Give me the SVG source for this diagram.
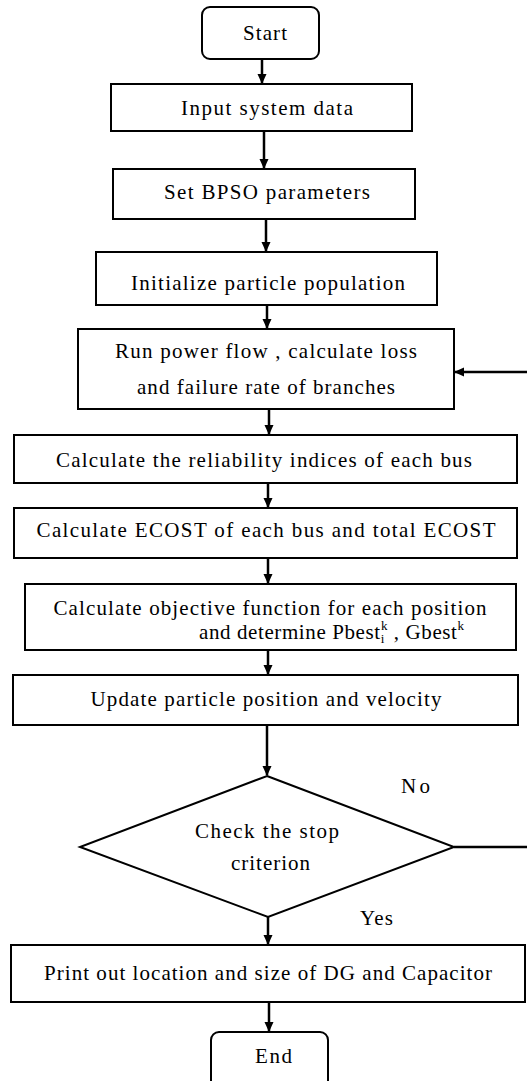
<svg xmlns="http://www.w3.org/2000/svg" width="527" height="1081" viewBox="0 0 527 1081">
<style>
.b{fill:#fff;stroke:#000;stroke-width:2}
text{font-family:Liberation Serif,Times New Roman,Times,serif;font-size:21px;fill:#000;text-anchor:middle}
.l{text-anchor:start}
.s{font-size:13px}
.c{fill:none;stroke:#000;stroke-width:2.5}
</style>
<defs>
<marker id="ah" markerWidth="10" markerHeight="10" refX="9" refY="5" orient="auto" markerUnits="userSpaceOnUse">
<path d="M0,0.5 L10,5 L0,9.5 Z" fill="#000"/>
</marker>
</defs>
<g id="connectors">
<path class="c" d="M262,59 V83" marker-end="url(#ah)"/>
<path class="c" d="M264,131 V168" marker-end="url(#ah)"/>
<path class="c" d="M266,219 V251" marker-end="url(#ah)"/>
<path class="c" d="M267,305 V328" marker-end="url(#ah)"/>
<path class="c" d="M269,409 V434" marker-end="url(#ah)"/>
<path class="c" d="M268,483 V507" marker-end="url(#ah)"/>
<path class="c" d="M268,558 V583" marker-end="url(#ah)"/>
<path class="c" d="M268,650 V674" marker-end="url(#ah)"/>
<path class="c" d="M267,725 V775" marker-end="url(#ah)"/>
<path class="c" d="M268,917 V944" marker-end="url(#ah)"/>
<path class="c" d="M269,1002 V1031" marker-end="url(#ah)"/>
<path class="c" d="M454,847 H540 V372 H455" marker-end="url(#ah)"/>
</g>
<g id="start"><rect class="b" x="202" y="7" width="117" height="52" rx="8"/><text font-family="Liberation Serif" x="265" y="40" textLength="44" lengthAdjust="spacing">Start</text></g>
<g id="input"><rect class="b" x="111" y="84" width="301" height="47"/><text font-family="Liberation Serif" x="267" y="115" textLength="172" lengthAdjust="spacing">Input system data</text></g>
<g id="bpso"><rect class="b" x="113" y="169" width="302" height="50"/><text font-family="Liberation Serif" x="267" y="199" textLength="206" lengthAdjust="spacing">Set BPSO parameters</text></g>
<g id="init"><rect class="b" x="96" y="252" width="341" height="53"/><text font-family="Liberation Serif" x="268" y="290" textLength="274" lengthAdjust="spacing">Initialize particle population</text></g>
<g id="powerflow"><rect class="b" x="78" y="329" width="376" height="80"/><text font-family="Liberation Serif" x="266" y="358" textLength="302" lengthAdjust="spacing">Run power flow , calculate loss</text><text font-family="Liberation Serif" x="266" y="394" textLength="258" lengthAdjust="spacing">and failure rate of branches</text></g>
<g id="reliability"><rect class="b" x="14" y="435" width="503" height="48"/><text font-family="Liberation Serif" x="264" y="467" textLength="416" lengthAdjust="spacing">Calculate the reliability indices of each bus</text></g>
<g id="ecost"><rect class="b" x="14" y="508" width="503" height="50"/><text font-family="Liberation Serif" x="266" y="537" textLength="459" lengthAdjust="spacing">Calculate ECOST of each bus and total ECOST</text></g>
<g id="objective"><rect class="b" x="25" y="584" width="491" height="66"/><text font-family="Liberation Serif" x="270" y="615" textLength="433" lengthAdjust="spacing">Calculate objective function for each position</text><text font-family="Liberation Serif" class="l" x="199" y="639" letter-spacing="0.6">and determine Pbest<tspan class="s" dy="4">i</tspan><tspan class="s" dx="-4" dy="-13">k</tspan><tspan dy="9"> , Gbest</tspan><tspan class="s" dy="-9">k</tspan></text></g>
<g id="update"><rect class="b" x="13" y="675" width="505" height="50"/><text font-family="Liberation Serif" x="266" y="706" textLength="351" lengthAdjust="spacing">Update particle position and velocity</text></g>
<g id="decision"><polygon class="b" points="267,776 454,847 268,917 80,847"/><text font-family="Liberation Serif" x="267" y="838" textLength="144" lengthAdjust="spacing">Check the stop</text><text font-family="Liberation Serif" x="270.5" y="870" textLength="79" lengthAdjust="spacing">criterion</text></g>
<g id="print"><rect class="b" x="11" y="945" width="514" height="57"/><text font-family="Liberation Serif" x="268" y="980" textLength="448" lengthAdjust="spacing">Print out location and size of DG and Capacitor</text></g>
<g id="end"><rect class="b" x="211" y="1032" width="117" height="58" rx="8"/><text font-family="Liberation Serif" x="273.5" y="1063" textLength="37" lengthAdjust="spacing">End</text></g>
<g id="labels"><text font-family="Liberation Serif" x="415.5" y="793" textLength="29" lengthAdjust="spacing">No</text><text font-family="Liberation Serif" x="376.5" y="925" textLength="33" lengthAdjust="spacing">Yes</text></g>
</svg>
